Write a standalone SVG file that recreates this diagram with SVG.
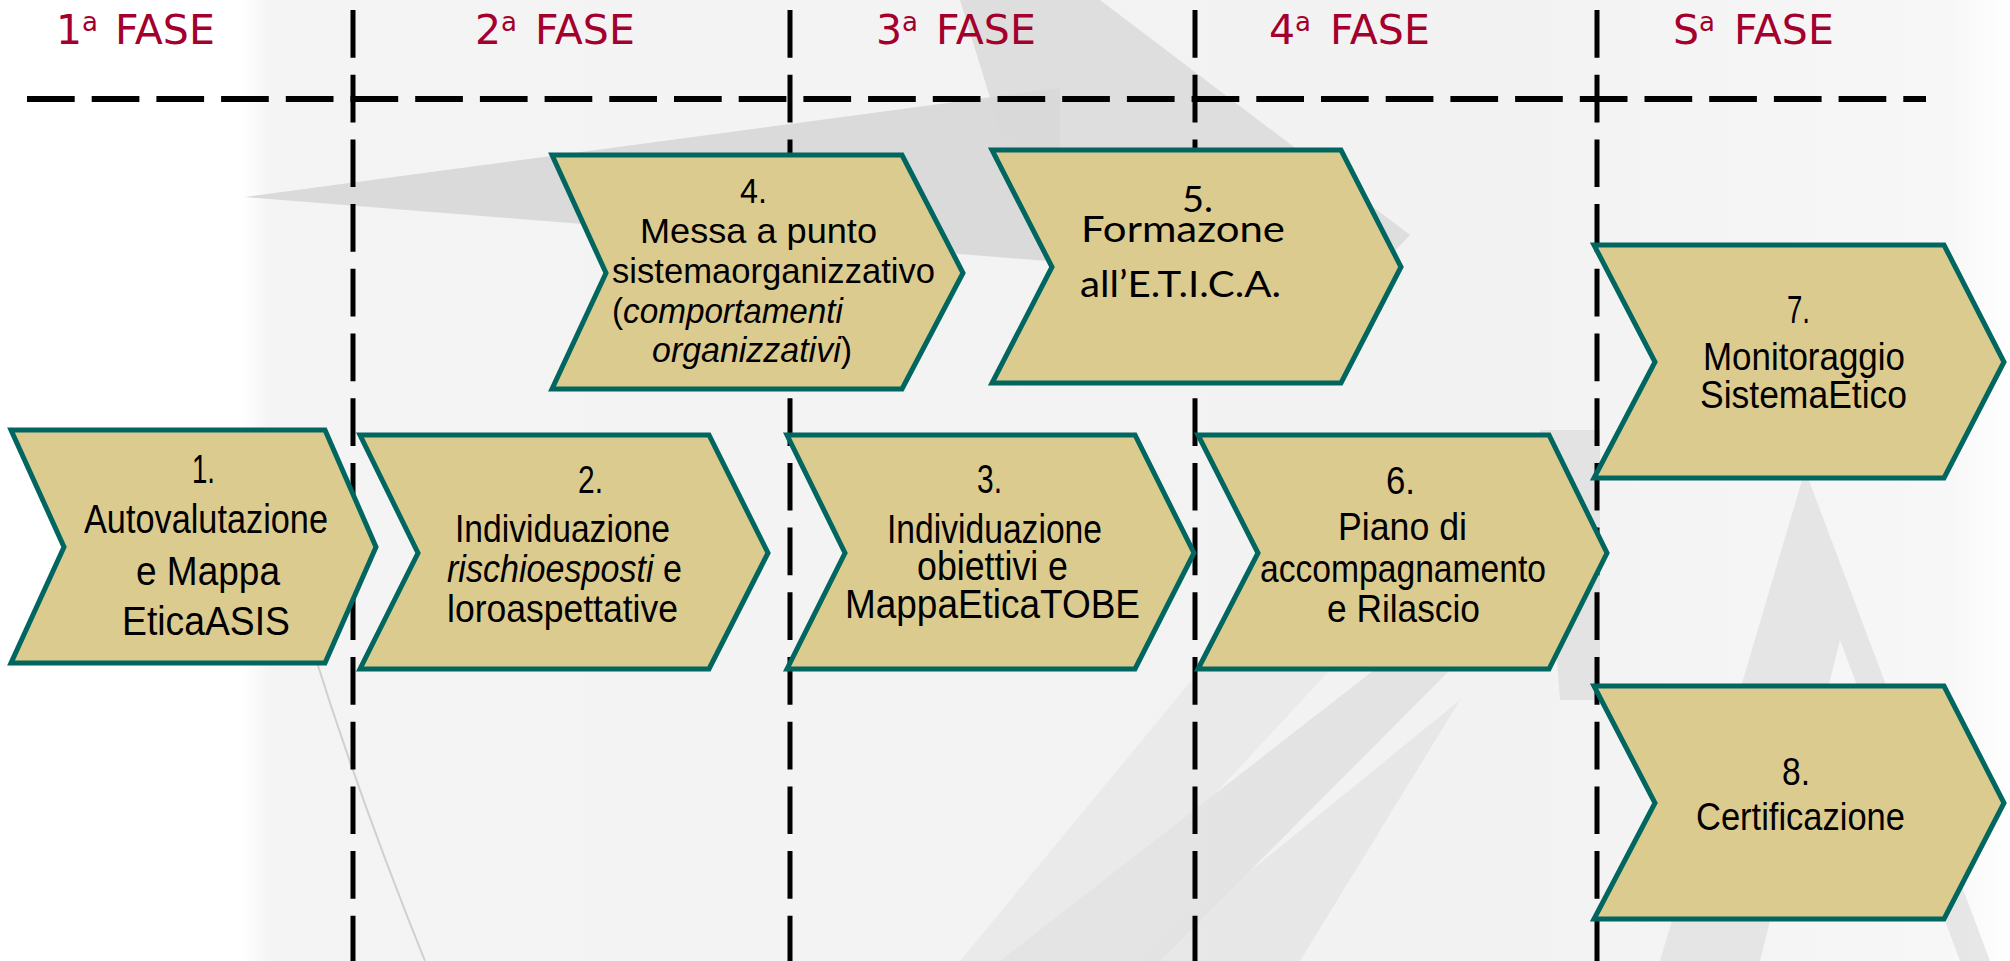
<svg xmlns="http://www.w3.org/2000/svg" width="2010" height="961" viewBox="0 0 2010 961">
<style>
.node{fill:#DCCB8E;stroke:#00665F;stroke-width:5;stroke-linejoin:miter}
.t{font-family:"Liberation Sans Narrow","Liberation Sans",Arial,sans-serif;fill:#000}
.t5{font-family:Lato,"Open Sans","Liberation Sans",sans-serif;fill:#000}
.ph{font-family:"DejaVu Sans","Liberation Sans",sans-serif;font-size:41px;fill:#A3002D}
.sup{font-size:26px}
.vl{stroke:#000;stroke-width:5;stroke-dasharray:47.7 17;fill:none}
.hl{stroke:#000;stroke-width:6;stroke-dasharray:47.7 17;fill:none}
.it{font-style:italic}
</style>
<defs>
<linearGradient id="bg" x1="0" y1="0" x2="1" y2="0">
<stop offset="0" stop-color="#FFFFFF"/>
<stop offset="0.12" stop-color="#FFFFFF"/>
<stop offset="0.135" stop-color="#F4F4F4"/>
<stop offset="0.75" stop-color="#F2F2F2"/>
<stop offset="0.97" stop-color="#F7F7F7"/>
<stop offset="1" stop-color="#FFFFFF"/>
</linearGradient>
</defs>
<g id="background">
<rect x="0" y="0" width="2010" height="961" fill="url(#bg)"/>
<polygon points="245,197 1060,88 1060,262" fill="#DADADA"/>
<polygon points="960,0 1100,0 1410,235 1320,330 1000,130" fill="#D8D8D8" opacity="0.8"/>
<polygon points="1540,430 1600,430 1600,700 1560,700" fill="#DCDCDC" opacity="0.7"/>
<polygon points="1000,961 1160,961 1470,650 1400,650" fill="#DDDDDD" opacity="0.7"/>
<polygon points="1140,961 1300,961 1460,700" fill="#E2E2E2" opacity="0.7"/>
<polygon points="1805,470 1660,961 1760,961 1840,640 1960,961 1990,961" fill="#DEDEDE" opacity="0.7"/>
<polygon points="1200,670 1330,670 1060,961 960,961" fill="#E4E4E4" opacity="0.6"/>
<path d="M313,650 Q360,800 425,961" stroke="#D0D0D0" stroke-width="2" fill="none"/>
</g>
<g id="phase-labels">
<text class="ph" x="56" y="44">1<tspan class="sup" dy="-13">a</tspan><tspan x="115" dy="13">FASE</tspan></text>
<text class="ph" x="475" y="44">2<tspan class="sup" dy="-13">a</tspan><tspan x="535" dy="13">FASE</tspan></text>
<text class="ph" x="876" y="44">3<tspan class="sup" dy="-13">a</tspan><tspan x="936" dy="13">FASE</tspan></text>
<text class="ph" x="1269" y="44">4<tspan class="sup" dy="-13">a</tspan><tspan x="1330" dy="13">FASE</tspan></text>
<text class="ph" x="1673" y="44">S<tspan class="sup" dy="-13">a</tspan><tspan x="1734" dy="13">FASE</tspan></text>
</g>
<g id="connectors">
<line class="hl" x1="27" y1="99" x2="1926" y2="99"/>
<line class="vl" x1="353" y1="10" x2="353" y2="961"/>
<line class="vl" x1="790" y1="10" x2="790" y2="961"/>
<line class="vl" x1="1195" y1="10" x2="1195" y2="961"/>
<line class="vl" x1="1597" y1="10" x2="1597" y2="961"/>
</g>
<g id="node1">
<path class="node" d="M11,430 L325,430 L376,547 L325,663 L11,663 L64,547 Z"/>
<text class="t" font-size="41" x="192" y="483" textLength="23" lengthAdjust="spacingAndGlyphs">1.</text>
<text class="t" font-size="41" x="84" y="533" textLength="244" lengthAdjust="spacingAndGlyphs">Autovalutazione</text>
<text class="t" font-size="41" x="136" y="585" textLength="144" lengthAdjust="spacingAndGlyphs">e Mappa</text>
<text class="t" font-size="41" x="122" y="635" textLength="168" lengthAdjust="spacingAndGlyphs">EticaASIS</text>
</g>
<g id="node2">
<path class="node" d="M360,435 L709,435 L768,553 L709,669 L360,669 L418,553 Z"/>
<text class="t" font-size="39" x="578" y="493" textLength="25" lengthAdjust="spacingAndGlyphs">2.</text>
<text class="t" font-size="39" x="455" y="542" textLength="215" lengthAdjust="spacingAndGlyphs">Individuazione</text>
<text class="t" font-size="39" x="447" y="582" textLength="235" lengthAdjust="spacingAndGlyphs"><tspan class="it">rischioesposti</tspan> e</text>
<text class="t" font-size="39" x="447" y="622" textLength="231" lengthAdjust="spacingAndGlyphs">loroaspettative</text>
</g>
<g id="node3">
<path class="node" d="M787,435 L1135,435 L1194,553 L1135,669 L787,669 L845,553 Z"/>
<text class="t" font-size="40" x="977" y="493" textLength="25" lengthAdjust="spacingAndGlyphs">3.</text>
<text class="t" font-size="40" x="887" y="543" textLength="215" lengthAdjust="spacingAndGlyphs">Individuazione</text>
<text class="t" font-size="40" x="917" y="580" textLength="151" lengthAdjust="spacingAndGlyphs">obiettivi e</text>
<text class="t" font-size="40" x="845" y="618" textLength="295" lengthAdjust="spacingAndGlyphs">MappaEticaTOBE</text>
</g>
<g id="node4">
<path class="node" d="M552,155 L902,155 L963,273 L902,389 L552,389 L606,273 Z"/>
<text class="t" font-size="35" x="740" y="203" textLength="27" lengthAdjust="spacingAndGlyphs">4.</text>
<text class="t" font-size="35" x="640" y="243" textLength="237" lengthAdjust="spacingAndGlyphs">Messa a punto</text>
<text class="t" font-size="35" x="612" y="283" textLength="323" lengthAdjust="spacingAndGlyphs">sistemaorganizzativo</text>
<text class="t" font-size="35" x="612" y="323" textLength="231" lengthAdjust="spacingAndGlyphs">(<tspan class="it">comportamenti</tspan></text>
<text class="t" font-size="35" x="652" y="362" textLength="200" lengthAdjust="spacingAndGlyphs"><tspan class="it">organizzativi</tspan>)</text>
</g>
<g id="node5">
<path class="node" d="M992,150 L1341,150 L1401,267 L1341,383 L992,383 L1052,267 Z"/>
<text class="t5" font-size="36" x="1182" y="212" textLength="31" lengthAdjust="spacingAndGlyphs">5.</text>
<text class="t5" font-size="36" x="1081" y="242" textLength="204" lengthAdjust="spacingAndGlyphs">Formazone</text>
<text class="t5" font-size="36" x="1080" y="297" textLength="201" lengthAdjust="spacingAndGlyphs">all’E.T.I.C.A.</text>
</g>
<g id="node6">
<path class="node" d="M1198,435 L1549,435 L1607,553 L1549,669 L1198,669 L1258,553 Z"/>
<text class="t" font-size="39" x="1386" y="494" textLength="29" lengthAdjust="spacingAndGlyphs">6.</text>
<text class="t" font-size="39" x="1338" y="540" textLength="129" lengthAdjust="spacingAndGlyphs">Piano di</text>
<text class="t" font-size="39" x="1260" y="582" textLength="286" lengthAdjust="spacingAndGlyphs">accompagnamento</text>
<text class="t" font-size="39" x="1327" y="622" textLength="153" lengthAdjust="spacingAndGlyphs">e Rilascio</text>
</g>
<g id="node7">
<path class="node" d="M1594,245 L1944,245 L2004,362 L1944,478 L1594,478 L1655,362 Z"/>
<text class="t" font-size="39" x="1787" y="323" textLength="23" lengthAdjust="spacingAndGlyphs">7.</text>
<text class="t" font-size="39" x="1703" y="370" textLength="202" lengthAdjust="spacingAndGlyphs">Monitoraggio</text>
<text class="t" font-size="39" x="1700" y="408" textLength="207" lengthAdjust="spacingAndGlyphs">SistemaEtico</text>
</g>
<g id="node8">
<path class="node" d="M1594,686 L1944,686 L2004,803 L1944,919 L1594,919 L1655,803 Z"/>
<text class="t" font-size="39" x="1782" y="785" textLength="28" lengthAdjust="spacingAndGlyphs">8.</text>
<text class="t" font-size="39" x="1696" y="830" textLength="209" lengthAdjust="spacingAndGlyphs">Certificazione</text>
</g>
</svg>
